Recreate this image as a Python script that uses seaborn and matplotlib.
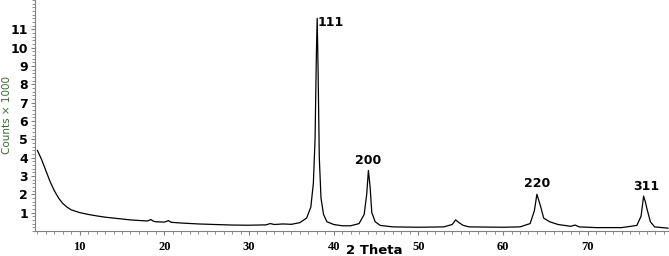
import numpy as np
import pandas as pd
import seaborn as sns
import matplotlib.pyplot as plt
from matplotlib.ticker import MultipleLocator

# XRD pattern (2 theta in degrees, counts in thousands)
two_theta = [5.0, 5.5, 6.0, 6.5, 7.0, 7.5, 8.0, 8.5, 9.0, 10.0, 11.0, 12.0, 13.0, 14.0,
             15.0, 16.0, 17.0, 18.0, 18.4, 18.7, 19.0, 20.0, 20.5, 20.8, 22.0, 24.0,
             26.0, 28.0, 30.0, 32.0, 32.5, 33.0, 34.0, 35.0, 36.0, 36.8, 37.3, 37.6,
             37.8, 37.95, 38.05, 38.15, 38.3, 38.5, 38.8, 39.2, 40.0, 41.0, 42.0, 43.0,
             43.6, 43.9, 44.1, 44.3, 44.5, 44.9, 45.5, 47.0, 50.0, 53.0, 54.0, 54.4,
             54.8, 55.3, 56.0, 60.0, 62.0, 63.2, 63.7, 64.0, 64.2, 64.4, 64.8, 65.5,
             66.5, 68.0, 68.5, 69.0, 71.0, 74.0, 75.8, 76.3, 76.6, 76.8, 77.0, 77.4,
             77.9, 79.5]
counts = [4.4, 3.9, 3.3, 2.7, 2.2, 1.8, 1.5, 1.3, 1.15, 1.0, 0.9, 0.82, 0.75, 0.7,
          0.65, 0.6, 0.57, 0.54, 0.62, 0.53, 0.5, 0.48, 0.56, 0.47, 0.43, 0.38,
          0.35, 0.32, 0.31, 0.33, 0.4, 0.35, 0.38, 0.36, 0.45, 0.7, 1.3, 2.6,
          5.0, 9.5, 11.6, 9.0, 4.0, 1.8, 0.9, 0.5, 0.35, 0.28, 0.28, 0.4,
          0.9, 2.0, 3.3, 2.4, 1.0, 0.5, 0.3, 0.22, 0.2, 0.22, 0.35, 0.6,
          0.45, 0.3, 0.22, 0.2, 0.22, 0.4, 1.1, 2.0, 1.7, 1.4, 0.7, 0.5,
          0.35, 0.25, 0.32, 0.22, 0.18, 0.18, 0.3, 0.8, 1.9, 1.6, 1.2, 0.5,
          0.22, 0.15]

# Miller indices and where their labels sit
peak_labels = ['111', '200', '220', '311']
peak_x = [38.15, 44.1, 64.0, 76.9]
peak_y = [11.35, 3.85, 2.6, 2.4]

df = pd.DataFrame({'two_theta': two_theta, 'counts': counts})

sns.set_style('white')
fig = plt.figure(figsize=(6.69, 2.56), dpi=100)
ax = fig.add_axes([0.052, 0.098, 0.948, 0.902])

sns.lineplot(data=df, x='two_theta', y='counts', ax=ax, color='black',
             linewidth=0.9, sort=False)

for lab, px, py in zip(peak_labels, peak_x, peak_y):
    ax.text(px, py, lab, ha='left' if lab == '111' else 'center', va='center',
            fontsize=9, fontweight='bold', color='black')

ax.set_xlim(4.7, 79.6)
ax.set_ylim(0, 12.6)
ax.xaxis.set_major_locator(MultipleLocator(10))
ax.xaxis.set_minor_locator(MultipleLocator(1))
ax.yaxis.set_minor_locator(MultipleLocator(0.2))
ax.set_yticks(range(1, 12))
ax.tick_params(axis='both', which='major', length=3, width=0.8, color='gray',
               pad=2, labelcolor='black')
ax.tick_params(axis='both', which='minor', length=2, width=0.6, color='gray')
ax.tick_params(axis='x', direction='out', bottom=True, which='both', pad=4)
ax.tick_params(axis='y', direction='out', left=True, which='both')
for t in ax.get_xticklabels():
    t.set_fontweight('bold')
    t.set_family('Liberation Serif')
    t.set_fontsize(9)
for t in ax.get_yticklabels():
    t.set_fontweight('bold')
    t.set_fontsize(9)

for s in ['top', 'right']:
    ax.spines[s].set_visible(False)
for s in ['left', 'bottom']:
    ax.spines[s].set_color('gray')
    ax.spines[s].set_linewidth(0.8)

ax.set_xlabel('2 Theta', fontsize=9.5, fontweight='bold', color='black')
ax.xaxis.set_label_coords(0.536, -0.055)
ax.set_ylabel('Counts \u00d7 1000', fontsize=7.5, color='#3b6b30')
ax.yaxis.set_label_coords(-0.036, 0.5)

fig.savefig('out.png', dpi=100)
